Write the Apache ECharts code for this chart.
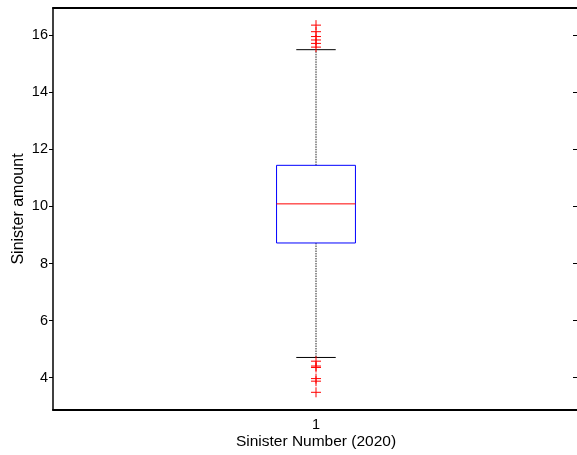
<!DOCTYPE html>
<html>
<head>
<meta charset="utf-8">
<script src="https://cdn.jsdelivr.net/npm/echarts@6/dist/echarts.min.js"></script>
<style>html,body{margin:0;padding:0;background:#fff}#c{width:577px;height:455px}</style>
</head>
<body>
<div id="c"></div>
<script>
const categories = ['1'];
const whiskerLow = [4.71];
const q1 = [8.72];
const median = [10.09];
const q3 = [11.44];
const whiskerHigh = [15.49];
const outliers = [16.35, 16.12, 15.95, 15.83, 15.71, 15.58, 4.58, 4.41, 4.36, 3.97, 3.88, 3.49];
const yTicks = [4, 6, 8, 10, 12, 14, 16];
const yMin = 2.87, yMax = 16.95;

const FONT = 'Liberation Sans, Arial, sans-serif';
const chart = echarts.init(document.getElementById('c'), null, {renderer: 'canvas'});

const boxData = categories.map((c, i) => [i, whiskerLow[i], q1[i], median[i], q3[i], whiskerHigh[i]]);
const outData = outliers.map(v => [0, v]);

function renderBox(params, api) {
  const idx = api.value(0);
  const band = api.size([1, 0])[0];
  const bw = band * 0.15;
  const cw = bw / 2;
  const pLow = api.coord([idx, api.value(1)]);
  const pQ1 = api.coord([idx, api.value(2)]);
  const pMed = api.coord([idx, api.value(3)]);
  const pQ3 = api.coord([idx, api.value(4)]);
  const pHigh = api.coord([idx, api.value(5)]);
  const x = pMed[0];
  const dash = {stroke: '#222', lineWidth: 1, lineDash: [1.5, 1]};
  const solid = {stroke: '#000', lineWidth: 1};
  return {
    type: 'group',
    children: [
      {type: 'line', shape: {x1: x, y1: pQ3[1], x2: x, y2: pHigh[1]}, style: dash},
      {type: 'line', shape: {x1: x, y1: pQ1[1], x2: x, y2: pLow[1]}, style: dash},
      {type: 'line', shape: {x1: x - cw / 2, y1: pHigh[1], x2: x + cw / 2, y2: pHigh[1]}, style: solid},
      {type: 'line', shape: {x1: x - cw / 2, y1: pLow[1], x2: x + cw / 2, y2: pLow[1]}, style: solid},
      {type: 'rect', shape: {x: x - bw / 2, y: pQ3[1], width: bw, height: pQ1[1] - pQ3[1]},
        style: {fill: 'none', stroke: '#0000ff', lineWidth: 1}},
      {type: 'line', shape: {x1: x - bw / 2, y1: pMed[1], x2: x + bw / 2, y2: pMed[1]},
        style: {stroke: '#ff0000', lineWidth: 1}}
    ]
  };
}

function renderOut(params, api) {
  const p = api.coord([api.value(0), api.value(1)]);
  const s = 5;
  const st = {stroke: '#ff0000', lineWidth: 1};
  return {
    type: 'group',
    children: [
      {type: 'line', shape: {x1: p[0] - s, y1: p[1], x2: p[0] + s, y2: p[1]}, style: st},
      {type: 'line', shape: {x1: p[0], y1: p[1] - s, x2: p[0], y2: p[1] + s}, style: st}
    ]
  };
}

const option = {
  animation: false,
  backgroundColor: '#fff',
  textStyle: {fontFamily: FONT},
  grid: {left: 53, top: 8, right: -2, bottom: 45, containLabel: false, outerBoundsMode: 'none'},
  xAxis: [{
    type: 'category', data: categories, boundaryGap: true, position: 'bottom',
    name: 'Sinister Number (2020)', nameLocation: 'middle', nameGap: 24, nameMoveOverlap: false,
    nameTextStyle: {fontFamily: FONT, fontSize: 15.5, color: '#000'},
    axisLine: {lineStyle: {color: '#000', width: 2}},
    axisTick: {show: false},
    axisLabel: {fontFamily: FONT, fontSize: 14.5, color: '#000', margin: 7},
    splitLine: {show: false}
  }, {
    type: 'category', data: categories, boundaryGap: true, position: 'top',
    axisLine: {lineStyle: {color: '#000', width: 2}},
    axisTick: {show: false}, axisLabel: {show: false}, splitLine: {show: false}
  }],
  yAxis: [{
    type: 'value', min: yMin, max: yMax, position: 'left',
    name: 'Sinister amount', nameLocation: 'middle', nameGap: 26, nameMoveOverlap: false,
    nameTextStyle: {fontFamily: FONT, fontSize: 16, color: '#000'},
    axisLine: {show: true, lineStyle: {color: '#000', width: 1.5}},
    axisTick: {show: true, inside: false, length: 4, customValues: yTicks, lineStyle: {color: '#000'}},
    axisLabel: {fontFamily: FONT, fontSize: 14.5, color: '#000', margin: 5, customValues: yTicks},
    splitLine: {show: false}
  }, {
    type: 'value', min: yMin, max: yMax, position: 'right',
    axisLine: {show: true, lineStyle: {color: '#000', width: 1.5}},
    axisTick: {show: true, inside: true, length: 6, customValues: yTicks, lineStyle: {color: '#000'}},
    axisLabel: {show: false},
    splitLine: {show: false}
  }],
  series: [{
    type: 'custom', renderItem: renderBox, data: boxData,
    encode: {x: 0, y: [1, 2, 3, 4, 5]}, xAxisIndex: 0, yAxisIndex: 0, clip: false
  }, {
    type: 'custom', renderItem: renderOut, data: outData,
    encode: {x: 0, y: 1}, xAxisIndex: 0, yAxisIndex: 0
  }]
};
chart.setOption(option);
</script>
</body>
</html>
